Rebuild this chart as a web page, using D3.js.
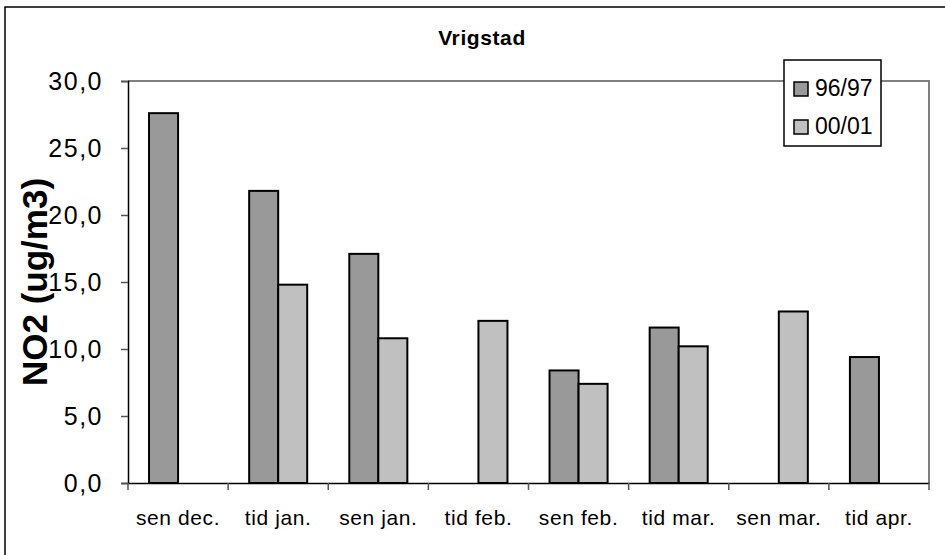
<!DOCTYPE html>
<html>
<head>
<meta charset="utf-8">
<script src="https://cdn.jsdelivr.net/npm/d3@7"></script>
<style>
  body { margin: 0; background: #fff; }
  svg { display: block; font-family: Arial, "Liberation Sans", sans-serif; }
</style>
</head>
<body>
<div id="chart"></div>
<script>
const categories = ['sen dec.', 'tid jan.', 'sen jan.', 'tid feb.', 'sen feb.', 'tid mar.', 'sen mar.', 'tid apr.'];
const seriesNames = ['96/97', '00/01'];
const values9697 = [27.6, 21.8, 17.1, null, 8.4, 11.6, null, 9.4];
const values0001 = [null, 14.8, 10.8, 12.1, 7.4, 10.2, 12.8, null];
const yTicks = [0, 5, 10, 15, 20, 25, 30];

const colors = { '96/97': '#999999', '00/01': '#c0c0c0' };

const width = 945;
const height = 555;
const plot = { left: 128, right: 929, top: 81, bottom: 483 };

const rows = categories.map((c, i) => ({
  category: c,
  values: [
    { series: '96/97', value: values9697[i] },
    { series: '00/01', value: values0001[i] }
  ]
}));

const svg = d3.select('#chart')
  .append('svg')
  .attr('width', width)
  .attr('height', height);

// outer chart frame (right and bottom edges fall outside the picture)
svg.append('rect')
  .attr('x', 5).attr('y', 7)
  .attr('width', 1000).attr('height', 700)
  .attr('fill', 'none')
  .attr('stroke', '#000')
  .attr('stroke-width', 1.5);

const x = d3.scaleBand()
  .domain(categories)
  .range([plot.left, plot.right])
  .paddingInner(0)
  .paddingOuter(0);

const xInner = d3.scaleBand()
  .domain(seriesNames)
  .range([0, x.bandwidth()])
  .paddingInner(0)
  .paddingOuter(0.725);

const y = d3.scaleLinear()
  .domain([0, 30])
  .range([plot.bottom, plot.top]);

const fmt = d3.formatLocale({ decimal: ',', thousands: ' ', grouping: [3], currency: ['', ''] }).format('.1f');

// plot area border: gray top and right
svg.append('path')
  .attr('d', `M${plot.left},${y(30)}H${plot.right}V${plot.bottom}`)
  .attr('fill', 'none')
  .attr('stroke', '#808080')
  .attr('stroke-width', 2);

// title
svg.append('text')
  .attr('x', 482)
  .attr('y', 45)
  .attr('text-anchor', 'middle')
  .attr('font-size', '21px')
  .attr('font-weight', 'bold')
  .attr('letter-spacing', '0.6px')
  .text('Vrigstad');

// bars
const groups = svg.selectAll('.group')
  .data(rows)
  .enter()
  .append('g')
  .attr('class', 'group')
  .attr('transform', d => `translate(${x(d.category)},0)`);

groups.selectAll('rect')
  .data(d => d.values.filter(v => v.value != null))
  .enter()
  .append('rect')
  .attr('x', d => xInner(d.series))
  .attr('width', xInner.bandwidth())
  .attr('y', d => y(d.value))
  .attr('height', d => y(0) - y(d.value))
  .attr('fill', d => colors[d.series])
  .attr('stroke', '#000')
  .attr('stroke-width', 2);

// y axis
const yAxis = svg.append('g')
  .attr('transform', `translate(${plot.left},0)`)
  .call(d3.axisLeft(y).tickValues(yTicks).tickFormat(fmt).tickSize(7).tickPadding(18));
yAxis.select('.domain').attr('stroke', '#000').attr('stroke-width', 1.5);
yAxis.selectAll('.tick line').attr('stroke', '#555').attr('stroke-width', 1.5);
yAxis.selectAll('.tick text')
  .attr('font-size', '25px')
  .attr('letter-spacing', '1.5px')
  .attr('fill', '#000')
  .attr('font-family', 'Arial, "Liberation Sans", sans-serif');

// x axis
const xAxis = svg.append('g')
  .attr('transform', `translate(0,${plot.bottom})`)
  .call(d3.axisBottom(x).tickSize(0).tickPadding(0));
xAxis.select('.domain').attr('stroke', '#000').attr('stroke-width', 1.5);
xAxis.selectAll('.tick text')
  .attr('y', 42)
  .attr('dy', 0)
  .attr('font-size', '21px')
  .attr('letter-spacing', '0.6px')
  .attr('fill', '#000')
  .attr('font-family', 'Arial, "Liberation Sans", sans-serif');

// tick marks at category boundaries
xAxis.selectAll('.sep')
  .data(categories.concat(['end']))
  .enter()
  .append('line')
  .attr('class', 'sep')
  .attr('x1', (d, i) => plot.left + i * x.step())
  .attr('x2', (d, i) => plot.left + i * x.step())
  .attr('y1', 0)
  .attr('y2', 7)
  .attr('stroke', '#555')
  .attr('stroke-width', 1.5);

// y axis title
svg.append('text')
  .attr('transform', `translate(47,${(plot.top + plot.bottom) / 2}) rotate(-90)`)
  .attr('text-anchor', 'middle')
  .attr('font-size', '35px')
  .attr('font-weight', 'bold')
  .text('NO2 (ug/m3)');

// legend
const legend = svg.append('g').attr('transform', 'translate(784,60)');
legend.append('rect')
  .attr('width', 97)
  .attr('height', 86)
  .attr('fill', '#fff')
  .attr('stroke', '#000')
  .attr('stroke-width', 1.5);

const items = legend.selectAll('.item')
  .data(seriesNames)
  .enter()
  .append('g')
  .attr('class', 'item')
  .attr('transform', (d, i) => `translate(10,${22 + i * 38})`);

items.append('rect')
  .attr('width', 14)
  .attr('height', 14)
  .attr('fill', d => colors[d])
  .attr('stroke', '#000')
  .attr('stroke-width', 1.5);

items.append('text')
  .attr('x', 21)
  .attr('y', 14)
  .attr('font-size', '23px')
  .text(d => d);
</script>
</body>
</html>
